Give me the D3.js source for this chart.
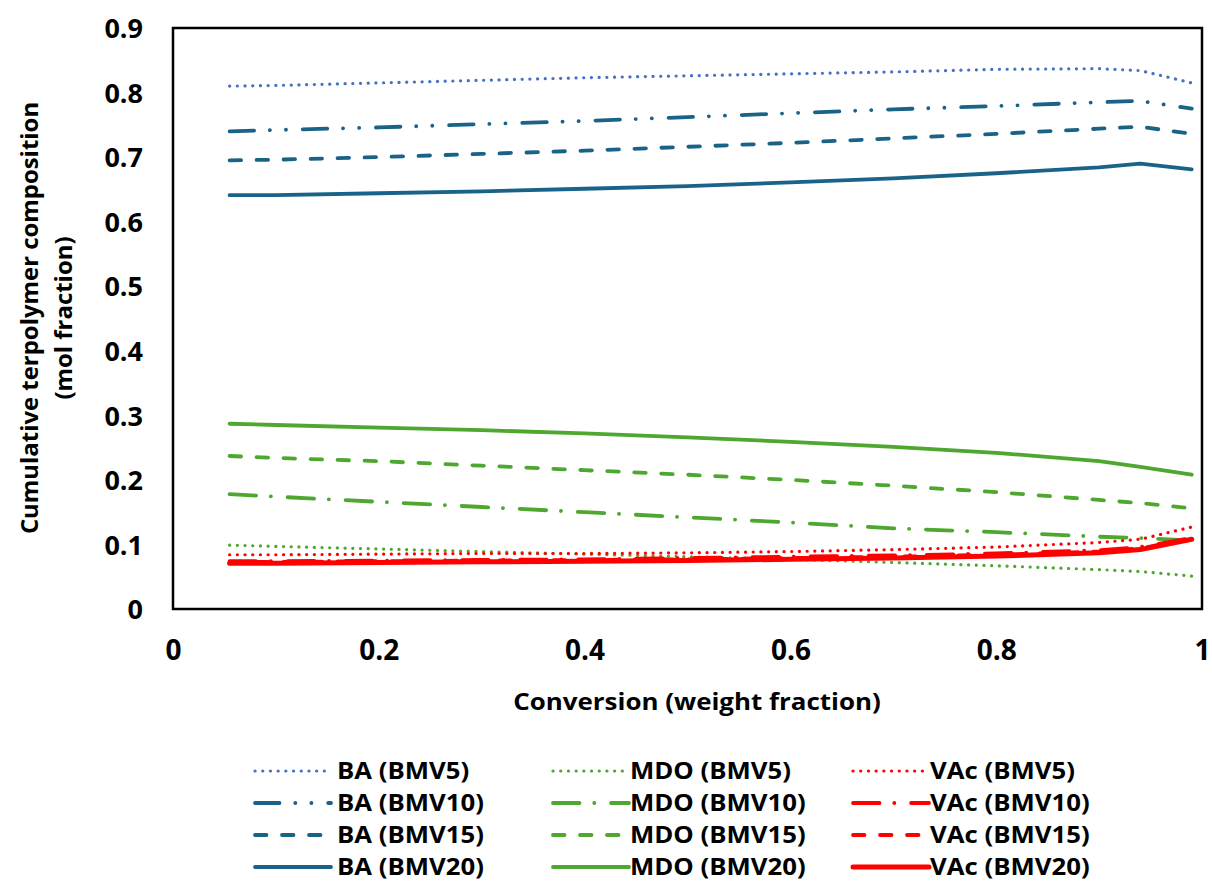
<!DOCTYPE html>
<html>
<head>
<meta charset="utf-8">
<script src="https://cdn.jsdelivr.net/npm/d3@7"></script>
<style>
  body { margin: 0; background: #fff; }
  text { font-family: "Open Sans", "DejaVu Sans", sans-serif; font-weight: 700; fill: #000; }
</style>
</head>
<body>
<div class="chart"></div>
<script>
// conversion (weight fraction) sample points shared by all series
const conversion = [0.055, 0.1, 0.2, 0.3, 0.4, 0.5, 0.6, 0.7, 0.8, 0.9, 0.94, 0.99];

const ba5   = [0.810, 0.811, 0.815, 0.819, 0.823, 0.826, 0.829, 0.832, 0.836, 0.837, 0.834, 0.815];
const ba10  = [0.740, 0.742, 0.746, 0.751, 0.756, 0.762, 0.768, 0.774, 0.779, 0.785, 0.787, 0.775];
const ba15  = [0.695, 0.696, 0.700, 0.705, 0.710, 0.716, 0.722, 0.729, 0.736, 0.744, 0.747, 0.736];
const ba20  = [0.641, 0.641, 0.644, 0.647, 0.651, 0.655, 0.661, 0.667, 0.675, 0.684, 0.690, 0.681];
const mdo5  = [0.099, 0.097, 0.093, 0.089, 0.085, 0.081, 0.077, 0.072, 0.067, 0.061, 0.058, 0.051];
const mdo10 = [0.178, 0.174, 0.166, 0.158, 0.150, 0.142, 0.134, 0.125, 0.119, 0.112, 0.110, 0.106];
const mdo15 = [0.237, 0.234, 0.229, 0.222, 0.215, 0.208, 0.200, 0.191, 0.181, 0.169, 0.164, 0.156];
const mdo20 = [0.287, 0.285, 0.281, 0.277, 0.272, 0.266, 0.259, 0.251, 0.242, 0.229, 0.220, 0.208];
const vac5  = [0.084, 0.084, 0.085, 0.086, 0.086, 0.087, 0.089, 0.092, 0.096, 0.103, 0.108, 0.127];
const vac10 = [0.074, 0.074, 0.075, 0.076, 0.077, 0.079, 0.081, 0.083, 0.086, 0.091, 0.096, 0.110];
const vac15 = [0.073, 0.073, 0.074, 0.075, 0.076, 0.077, 0.079, 0.081, 0.084, 0.089, 0.094, 0.109];
const vac20 = [0.071, 0.071, 0.072, 0.073, 0.074, 0.075, 0.077, 0.079, 0.082, 0.087, 0.092, 0.108];

const xTicks = [0, 0.2, 0.4, 0.6, 0.8, 1];
const yTicks = [0, 0.1, 0.2, 0.3, 0.4, 0.5, 0.6, 0.7, 0.8, 0.9];

const blue = "#1a6388", blueLight = "#4472c4", green = "#4ea72e", red = "#ff0000";
const DOT = "0.1,7.6", DASH = "11.5,15.5", DASHDOT = "26.5,14.75,0.1,16.75",
      DASHDOTDOT = "24.5,15.75,0.1,16,0.1,16.75";

// legend order is column-major, drawing order too
const series = [
  {name: "BA (BMV5)",   values: ba5,   color: blueLight, dash: DOT,        w: 3.2},
  {name: "BA (BMV10)",  values: ba10,  color: blue,      dash: DASHDOTDOT, w: 3.8},
  {name: "BA (BMV15)",  values: ba15,  color: blue,      dash: DASH,       w: 3.8},
  {name: "BA (BMV20)",  values: ba20,  color: blue,      dash: null,       w: 3.8},
  {name: "MDO (BMV5)",  values: mdo5,  color: green,     dash: DOT,        w: 3.2},
  {name: "MDO (BMV10)", values: mdo10, color: green,     dash: DASHDOT,    w: 3.8},
  {name: "MDO (BMV15)", values: mdo15, color: green,     dash: DASH,       w: 3.8},
  {name: "MDO (BMV20)", values: mdo20, color: green,     dash: null,       w: 3.8},
  {name: "VAc (BMV5)",  values: vac5,  color: red,       dash: DOT,        w: 3.2},
  {name: "VAc (BMV10)", values: vac10, color: red,       dash: DASHDOT,    w: 3.8},
  {name: "VAc (BMV15)", values: vac15, color: red,       dash: DASH,       w: 3.8},
  {name: "VAc (BMV20)", values: vac20, color: red,       dash: null,       w: 5}
];

const W = 1212, H = 888;
const plot = {left: 173, right: 1202, top: 28, bottom: 609};

const svg = d3.select(".chart").append("svg")
    .attr("width", W)
    .attr("height", H);

svg.append("rect").attr("width", W).attr("height", H).attr("fill", "#fff");

const x = d3.scaleLinear().domain([0, 1]).range([plot.left, plot.right]);
const y = d3.scaleLinear().domain([0, 0.9]).range([plot.bottom, plot.top]);

// y axis labels
const yAxis = svg.append("g")
    .attr("transform", "translate(" + plot.left + ",0)")
    .call(d3.axisLeft(y).tickValues(yTicks).tickSize(0).tickPadding(30).tickFormat(d => String(d)));
yAxis.select(".domain").remove();
yAxis.selectAll("text").style("font-size", "27px").attr("dy", "0.36em");

// x axis labels
const xAxis = svg.append("g")
    .attr("transform", "translate(0," + plot.bottom + ")")
    .call(d3.axisBottom(x).tickValues(xTicks).tickSize(0).tickFormat(d => String(d)));
xAxis.select(".domain").remove();
xAxis.selectAll("text").style("font-size", "28px").attr("y", 41).attr("dy", "0.36em");

// plot frame
svg.append("rect")
    .attr("x", plot.left)
    .attr("y", plot.top)
    .attr("width", plot.right - plot.left)
    .attr("height", plot.bottom - plot.top)
    .attr("fill", "none")
    .attr("stroke", "#000")
    .attr("stroke-width", 2.5);

const line = d3.line()
    .x((d, i) => x(conversion[i]))
    .y(d => y(d));

svg.append("g")
    .selectAll("path")
    .data(series)
    .join("path")
    .attr("d", d => line(d.values))
    .attr("fill", "none")
    .attr("stroke", d => d.color)
    .attr("stroke-width", d => d.w)
    .attr("stroke-linecap", "round")
    .attr("stroke-linejoin", "round")
    .attr("stroke-dasharray", d => d.dash);

// axis titles
svg.append("text")
    .attr("transform", "translate(697,701) scale(1.08,1)")
    .attr("text-anchor", "middle")
    .attr("dy", "0.36em")
    .style("font-size", "24px")
    .text("Conversion (weight fraction)");

const yTitle = svg.append("text")
    .attr("transform", "translate(30,318) rotate(-90) scale(1.04,1)")
    .attr("text-anchor", "middle")
    .style("font-size", "23px");
yTitle.append("tspan").attr("x", 0).attr("dy", "0.36em").text("Cumulative terpolymer composition");
yTitle.append("tspan").attr("x", 0).attr("dy", "1.45em").text("(mol fraction)");

// legend (text is drawn a little wide, like the stretched original)
const colX = [255, 553, 853];
const textX = [337, 630, 930];
const legend = svg.append("g")
    .selectAll("g")
    .data(series)
    .join("g")
    .attr("transform", (d, i) => "translate(0," + (771 + (i % 4) * 32) + ")");

legend.append("line")
    .attr("x1", (d, i) => colX[Math.floor(i / 4)])
    .attr("x2", (d, i) => colX[Math.floor(i / 4)] + 76)
    .attr("stroke", d => d.color)
    .attr("stroke-width", d => d.w)
    .attr("stroke-linecap", "round")
    .attr("stroke-dasharray", d => d.dash);

legend.append("text")
    .attr("transform", (d, i) => "translate(" + textX[Math.floor(i / 4)] + ",0) scale(1.12,1)")
    .attr("dy", "0.36em")
    .style("font-size", "23px")
    .text(d => d.name);
</script>
</body>
</html>
